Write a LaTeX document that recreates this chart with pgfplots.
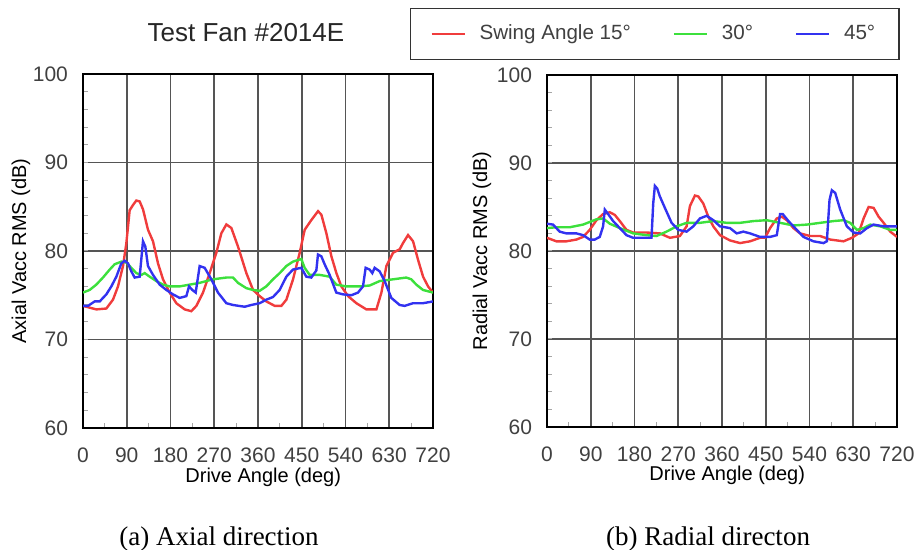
\documentclass[border=0pt]{standalone}
\usepackage{fontspec}
\setmainfont{Liberation Sans}
\newfontfamily\capfont{Liberation Serif}
\usepackage{pgfplots}
\pgfplotsset{compat=1.18}
\definecolor{redc}{HTML}{F03C3C}
\definecolor{greenc}{HTML}{3CE03C}
\definecolor{bluec}{HTML}{3232F0}
\definecolor{gridc}{HTML}{555555}

\pgfplotsset{
  vaccstyle/.style={
    scale only axis,
    width=175pt,
    xmin=0, xmax=720, ymin=60, ymax=100,
    xtick={0,90,...,720}, ytick={60,70,...,100},
    minor xtick={45,135,...,675},
    minor ytick={62,64,...,98},
    xtick pos=bottom, ytick pos=left,
    tick align=inside,
    major tick length=0pt,
    minor tick length=2.5pt,
    minor tick style={gray!70, line width=0.5pt},
    grid=major,
    major grid style={gridc, line width=0.9pt},
    axis line style={black, line width=1.2pt},
    /pgf/number format/assume math mode=true,
    tick label style={font=\fontsize{10.5}{12}\selectfont, text=black!75},
    xticklabel style={yshift=-6.5pt},
    yticklabel style={xshift=-4pt},
    label style={font=\fontsize{10.5}{12}\selectfont, text=black!75},
    xlabel={Drive Angle (deg)},
    every axis x label/.style={at={(axis description cs:0.515,-0.138)}, anchor=center},
    every axis plot/.append style={line width=1.2pt},
  },
}

\begin{document}
\begin{tikzpicture}
\useasboundingbox (0,0) rectangle (457.5pt,275pt);

% (a) axial
\begin{axis}[
  vaccstyle,
  height=177pt,
  at={(41.5pt,61pt)}, anchor=south west,
  ylabel={Axial Vacc RMS (dB)},
  every axis y label/.style={at={(axis description cs:-0.177,0.5)}, rotate=90, anchor=center},
  legend columns=3,
  legend style={at={(axis description cs:1.634,1.113)}, anchor=center,
    draw=black!80, line width=0.8pt, font=\fontsize{10.3}{12}\selectfont,
    text=black!75, inner xsep=10pt, inner ysep=6.25pt,
    /tikz/every odd column/.append style={column sep=5pt},
    /tikz/every even column/.append style={column sep=19pt}},
  legend image code/.code={\draw[#1, line width=1pt] (0pt,0pt) -- (16.5pt,0pt);},
]
\addplot[redc] coordinates {
(0,73.8)(27.4,73.4)(48,73.5)(61.7,74.5)(72,76)(82.3,78.3)(89,80.8)(96,84.6)(102.9,85.2)(109.7,85.7)(116.6,85.6)(123.5,84.7)(133.7,82.4)(144,81.1)(154.3,78.6)(164.6,76.8)(178.3,75.3)(192,74.1)(209.2,73.4)(222.9,73.2)(233.2,73.8)(246.9,75.3)(260.6,77.5)(274.3,79.8)(284.6,82)(294.9,83)(305.2,82.6)(318.9,80.5)(336.1,77.5)(349.8,75.6)(363.5,74.9)(377.2,74.3)(394.4,73.8)(408.1,73.8)(418.4,74.5)(432.1,76.8)(445.8,79.8)(456.1,82.4)(469.8,83.5)(483.5,84.5)(490.4,84.1)(500.7,82)(511,79.4)(521.3,77.5)(531.5,76)(545.3,74.9)(562.4,74.1)(583,73.4)(603.6,73.4)(613.9,75.3)(624.1,78.3)(637.9,79.8)(651.6,80.2)(658.4,80.9)(668.7,81.8)(679,81.1)(689.3,79)(699.6,77.1)(709.9,76)(720,75.3)
};
\addlegendentry{Swing Angle 15°}
\addplot[greenc] coordinates {
(0,75.3)(13.7,75.6)(27.4,76.2)(41.1,77)(54.9,77.9)(65.1,78.5)(78.9,78.8)(89.1,78.7)(99.4,78.1)(109.7,77.5)(120,77.3)(126.9,77.5)(137.1,77.1)(150.9,76.6)(164.6,76.2)(178.3,76)(198.9,76)(219.4,76.2)(240,76.4)(267.4,76.8)(294.9,77)(308.6,77)(318.9,76.4)(336,75.8)(349.7,75.6)(363.4,75.5)(377.1,76)(390.9,76.8)(404.6,77.5)(418.3,78.3)(432,78.8)(449.1,79.1)(456,78.1)(466.3,77.3)(486.9,77.3)(507.4,77.1)(521.1,76.2)(541.7,76)(569.1,76)(589.7,76.1)(610.3,76.6)(637.7,76.8)(665.1,77)(675.4,76.8)(685.7,76.2)(699.4,75.6)(720,75.3)
};
\addlegendentry{30°}
\addplot[bluec] coordinates {
(0,73.8)(10.3,73.8)(24,74.3)(34.3,74.3)(48,75.1)(58.3,76)(68.6,77.1)(78.9,78.6)(85.7,78.9)(92.6,78.6)(99.4,77.7)(106.3,77)(116.6,77.1)(123.4,81.1)(128.2,80.5)(133.7,78.3)(144,77.3)(157.7,76.2)(171.4,75.6)(185.1,75.1)(198.9,74.7)(212.6,74.9)(218.1,76)(224.9,75.6)(231.8,75.3)(240,78.3)(250.3,78.1)(264,76.8)(277.7,75.3)(294.9,74.1)(308.6,73.9)(332.6,73.7)(346.3,73.9)(363.4,74.1)(377.1,74.5)(390.9,74.8)(404.6,75.6)(418.3,77.1)(432,77.9)(449.1,78.1)(459.4,77.1)(469.7,77)(480,77.8)(483.4,79.6)(490.3,79.4)(497.1,78.5)(507.4,77.3)(521.1,75.3)(534.9,75.1)(552,75)(565.7,75.3)(576,76)(581.5,78.1)(589.7,77.9)(595.2,77.5)(600,78.1)(610.3,77.7)(620.6,76.6)(634.3,74.7)(651.4,73.9)(661.7,73.8)(678.9,74.1)(699.4,74.1)(720,74.3)
};
\addlegendentry{45°\hspace{7pt}}
\end{axis}

% (b) radial
\begin{axis}[
  vaccstyle,
  height=176pt,
  at={(273.5pt,61.5pt)}, anchor=south west,
  ylabel={Radial Vacc RMS (dB)},
  every axis y label/.style={at={(axis description cs:-0.186,0.5)}, rotate=90, anchor=center},
]
\addplot[redc] coordinates {
(0,81.5)(19.2,81.1)(39.8,81.1)(60.5,81.3)(74.2,81.6)(87.9,82.4)(101.7,83.5)(115.4,84.2)(129.2,84.4)(139.5,84.1)(149.8,83.4)(163.5,82.4)(177.2,82.1)(204.7,82.1)(232.2,82)(252.8,81.5)(273.4,81.7)(287.2,82.8)(294,85.1)(304.3,86.3)(311.2,86.2)(321.5,85.4)(331.8,83.9)(342.1,82.8)(355.9,81.8)(376.5,81.2)(397.1,80.9)(417.7,81.1)(438.3,81.5)(448.6,81.5)(458.9,82.6)(472.7,83.7)(483,83.9)(493.3,83.5)(507,82.6)(520.7,82)(541.4,81.7)(562,81.7)(582.6,81.3)(610.1,81.1)(627.2,81.5)(641,82)(651.3,83.7)(661.6,85)(671.9,84.9)(682.2,83.9)(692.5,83.2)(706.2,82.2)(720,81.6)
};
\addplot[greenc] coordinates {
(0,82.6)(19.2,82.7)(46.7,82.7)(74.2,83)(101.7,83.6)(115.4,83.7)(129.2,83.1)(149.8,82.6)(177.2,82)(204.7,81.8)(225.3,81.7)(245.9,82.2)(266.6,82.8)(287.2,83.2)(314.6,83.2)(342.1,83.4)(369.6,83.2)(397.1,83.2)(424.6,83.4)(452,83.5)(479.5,83.2)(507,82.9)(534.5,83)(562,83.2)(589.4,83.4)(610.1,83.5)(623.8,83.2)(637.5,82.4)(651.3,82.6)(665,83)(685.6,82.8)(706.2,82.4)(720,82.4)
};
\addplot[bluec] coordinates {
(0,83.1)(12.4,83)(26.1,82.2)(39.8,82)(60.5,82)(74.2,81.8)(87.9,81.3)(98.2,81.3)(108.5,81.6)(115.4,82.8)(118.9,84.7)(125.7,84.2)(136,83.4)(149.8,82.6)(163.5,81.8)(177.2,81.5)(204.7,81.5)(215,81.5)(218.5,85.4)(221.9,87.4)(226.7,87.1)(232.2,86.2)(242.5,84.9)(256.3,83.2)(270,82.4)(287.2,82.2)(300.9,82.8)(314.6,83.7)(328.4,84)(342.1,83.5)(355.9,82.8)(376.5,82.6)(390.2,82)(404,82.2)(417.7,82)(438.3,81.6)(458.9,81.6)(472.7,81.8)(479.5,84.2)(485,84.2)(496.7,83.4)(513.9,82.4)(527.6,81.6)(548.2,81.1)(568.8,80.9)(575.7,81.1)(581.2,85.8)(586,86.9)(592.9,86.6)(603.2,84.7)(616.9,82.8)(630.7,82.1)(644.4,82)(658.1,82.6)(671.9,83)(692.5,82.8)(720,82.8)
};
\end{axis}

\node[font=\fontsize{13}{15}\selectfont, text=black!85] at (123pt,258.5pt) {Test Fan \#2014E};
\node[font=\capfont\fontsize{13.5}{16}\selectfont, anchor=base] at (109.5pt,2.3pt) {(a) Axial direction};
\node[font=\capfont\fontsize{13.5}{16}\selectfont, anchor=base] at (354pt,2.3pt) {(b) Radial directon};
\end{tikzpicture}
\end{document}
